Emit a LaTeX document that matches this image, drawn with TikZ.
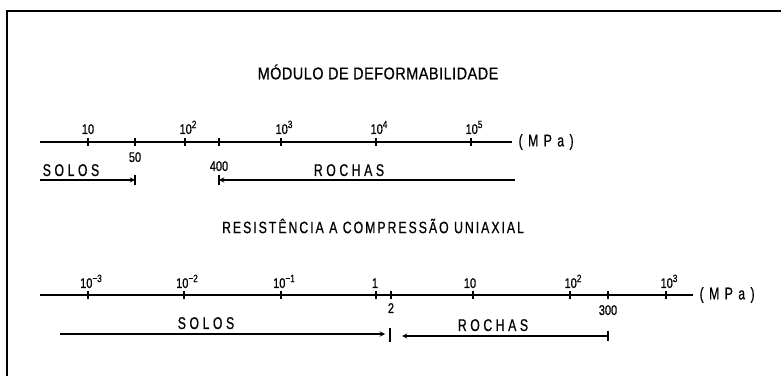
\documentclass[tikz,border=0pt]{standalone}
\usepackage{fontspec}
\setmainfont{Liberation Sans}
\newfontfamily\widefont[LetterSpace=21, FakeStretch=0.72, FakeBold=0.6]{Liberation Sans}
\newfontfamily\unitfont[LetterSpace=32, FakeStretch=0.72, FakeBold=0.6]{Liberation Sans}
\newfontfamily\titlefont[LetterSpace=12, FakeStretch=0.75, FakeBold=0.6]{Liberation Sans}
\newfontfamily\headfont[LetterSpace=3, FakeStretch=0.85, FakeBold=0.6]{Liberation Sans}
\newfontfamily\numfont[FakeStretch=0.78, FakeBold=0.6]{Liberation Sans}
\newcommand{\expo}[1]{\raisebox{0.8ex}{\fontsize{9}{9}\selectfont #1}}
\usetikzlibrary{positioning}
\tikzset{
  axisline/.style={line width=1.3pt},
  tickmark/.style={line width=1pt},
  numlabel/.style={anchor=base, inner sep=0pt, font=\fontsize{12}{14}\numfont},
  rangelabel/.style={anchor=base, inner sep=0pt, font=\fontsize{14.5}{16}\widefont},
  unitlabel/.style={right=5pt, inner sep=0pt, font=\fontsize{14.5}{16}\unitfont},
  rangearrow/.style={line width=1pt, -stealth},
}
\begin{document}
\begin{tikzpicture}[x=0.03cm, y=-0.03cm]
\useasboundingbox (0,0) rectangle (781,376);
% frame
\draw[line width=1.8pt] (7,376) -- (7,11) -- (781,11);

% modulo de deformabilidade
\node[inner sep=0pt, font=\fontsize{14.5}{16}\headfont] (titleA) at (378,72) {MÓDULO DE DEFORMABILIDADE};
\coordinate (axAa) at (40,142);
\coordinate (axAb) at (512,142);
\draw[axisline] (axAa) -- (axAb) node[unitlabel] (unitA) {(MPa)};
\draw[tickmark] (88,138) -- (88,146);
\draw[tickmark] (135,138) -- (135,146);
\draw[tickmark] (185,138) -- (185,146);
\draw[tickmark] (219,138) -- (219,146);
\draw[tickmark] (281,138) -- (281,146);
\draw[tickmark] (376,138) -- (376,146);
\draw[tickmark] (471,138) -- (471,146);
\node[numlabel] (mA1) at (88,134) {10};
\node[numlabel] (mA2) at (188,134) {10\expo{2}};
\node[numlabel] (mA3) at (284,134) {10\expo{3}};
\node[numlabel] (mA4) at (379,134) {10\expo{4}};
\node[numlabel] (mA5) at (474,134) {10\expo{5}};
\node[numlabel] (mA50) at (135,162) {50};
\node[numlabel] (mA400) at (219,171) {400};

\coordinate (soloAa) at (40,180);
\coordinate (soloAb) at (135,180);
\coordinate (rochaAa) at (515,180);
\coordinate (rochaAb) at (219,180);
\draw[rangearrow] (soloAa) -- (soloAb);
\draw[tickmark] (135,175) -- (135,185);
\draw[rangearrow] (rochaAa) -- (rochaAb);
\draw[tickmark] (219,175) -- (219,185);
\node[rangelabel] (soloA) at (71,176) {SOLOS};
\node[rangelabel] (rochaA) at (349,176) {ROCHAS};

% resistencia a compressao uniaxial
\node[inner sep=0pt, font=\fontsize{14}{16}\titlefont] (titleB) at (373,226) {RESISTÊNCIA A COMPRESSÃO UNIAXIAL};
\coordinate (axBa) at (40,295);
\coordinate (axBb) at (693,295);
\draw[axisline] (axBa) -- (axBb) node[unitlabel] (unitB) {(MPa)};
\draw[tickmark] (88,291) -- (88,299);
\draw[tickmark] (184,291) -- (184,299);
\draw[tickmark] (281,291) -- (281,299);
\draw[tickmark] (376,291) -- (376,299);
\draw[tickmark] (391,291) -- (391,299);
\draw[tickmark] (473,291) -- (473,299);
\draw[tickmark] (570,291) -- (570,299);
\draw[tickmark] (608,291) -- (608,299);
\draw[tickmark] (666,291) -- (666,299);
\node[numlabel] (mB1) at (91,288) {10\expo{−3}};
\node[numlabel] (mB2) at (187,288) {10\expo{−2}};
\node[numlabel] (mB3) at (284,288) {10\expo{−1}};
\node[numlabel] (mB4) at (375,288) {1};
\node[numlabel] (mB5) at (470,288) {10};
\node[numlabel] (mB6) at (573,288) {10\expo{2}};
\node[numlabel] (mB7) at (669,288) {10\expo{3}};
\node[numlabel] (mB2b) at (391,313) {2};
\node[numlabel] (mB300) at (608,315) {300};

\coordinate (soloBa) at (60,334);
\coordinate (soloBb) at (385,334);
\coordinate (rochaBa) at (608,336);
\coordinate (rochaBb) at (402,336);
\draw[rangearrow] (soloBa) -- (soloBb);
\draw[line width=1.4pt] (390,328) -- (390,342);
\draw[rangearrow] (rochaBa) -- (rochaBb);
\draw[tickmark] (608,331) -- (608,341);
\node[rangelabel] (soloB) at (206,329) {SOLOS};
\node[rangelabel] (rochaB) at (493,331) {ROCHAS};
\end{tikzpicture}
\end{document}
